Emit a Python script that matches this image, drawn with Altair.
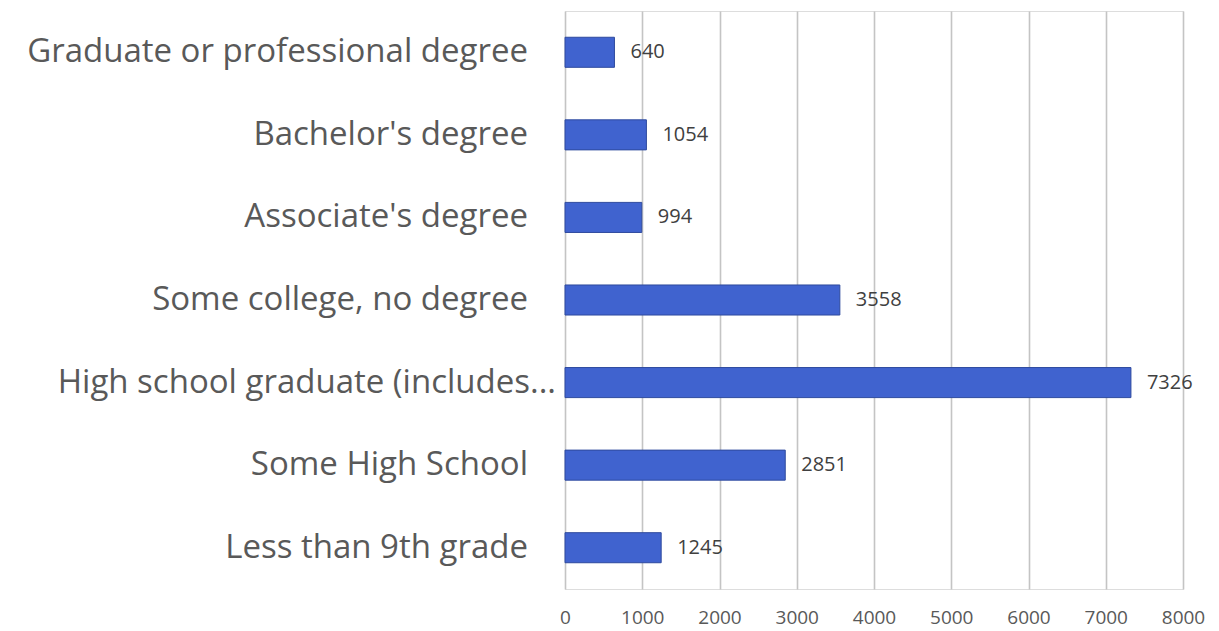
import altair as alt
import pandas as pd

# Education level counts
categories = [
    "Graduate or professional degree",
    "Bachelor's degree",
    "Associate's degree",
    "Some college, no degree",
    "High school graduate (includes...",
    "Some High School",
    "Less than 9th grade",
]
counts = [640, 1054, 994, 3558, 7326, 2851, 1245]
x_ticks = [0, 1000, 2000, 3000, 4000, 5000, 6000, 7000, 8000]
truncated = "High school graduate (includes..."

df = pd.DataFrame({"level": categories, "count": counts})

FONT = "Open Sans"
y_enc = alt.Y(
    "level:N",
    sort=categories,
    axis=None,
    scale=alt.Scale(paddingInner=0.636, paddingOuter=0.318),
)

bars = alt.Chart(df).mark_bar(
    color="#4063CF", stroke="#2E4A9E", strokeWidth=1
).encode(
    x=alt.X(
        "count:Q",
        scale=alt.Scale(domain=[0, 8000], nice=False),
        axis=alt.Axis(
            values=x_ticks,
            format="d",
            title=None,
            domain=False,
            ticks=False,
            grid=True,
            gridColor="#C4C4C4",
            gridWidth=1.6,
            labelFont=FONT,
            labelFontSize=19,
            labelColor="#595959",
            labelPadding=19,
            labelFlush=False,
        ),
    ),
    y=y_enc,
)

values_text = alt.Chart(df).mark_text(
    align="left", baseline="middle", dx=16, font=FONT, fontSize=20, color="#404040"
).encode(
    x="count:Q",
    y=alt.Y("level:N", sort=categories, axis=None),
    text="count:Q",
)

# Category names drawn to the left of the plot
names = alt.Chart(df).transform_filter(
    alt.datum.level != truncated
).mark_text(
    align="right", baseline="middle", font=FONT, fontSize=33, color="#595959"
).encode(
    x=alt.value(-37),
    y=alt.Y("level:N", sort=categories, axis=None),
    text="level:N",
)

names_long = alt.Chart(df).transform_filter(
    alt.datum.level == truncated
).mark_text(
    align="right", baseline="middle", font=FONT, fontSize=33, color="#595959"
).encode(
    x=alt.value(-9),
    y=alt.Y("level:N", sort=categories, axis=None),
    text="level:N",
)

chart = alt.layer(bars, values_text, names, names_long).properties(
    width=618,
    height=578,
    autosize=alt.AutoSizeParams(type="none"),
    padding={"left": 565, "top": 11, "right": 36, "bottom": 42},
).configure_view(stroke=None).configure(background="white")

chart.save("out.html", embed_options={"renderer": "svg", "actions": False})
